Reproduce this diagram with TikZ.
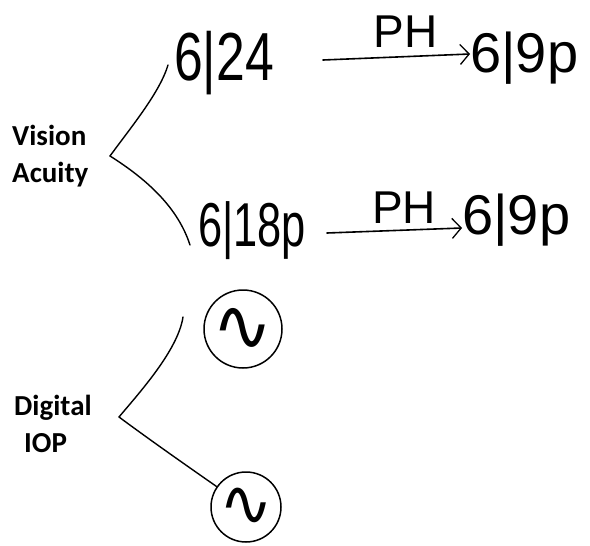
\documentclass[tikz,border=0pt]{standalone}
\usepackage{fontspec}
\setmainfont{Liberation Sans}
\newfontfamily\labfont{Carlito}
\newfontfamily\symfont{DejaVu Sans}
\usetikzlibrary{arrows.meta}
\begin{document}
\begin{tikzpicture}[x=1pt,y=-1pt,
  lab/.style={font=\labfont\bfseries\fontsize{29}{37}\selectfont, align=left, anchor=west, inner sep=0pt},
  hand/.style={inner sep=0pt, anchor=base west},
  branch/.style={line width=1.4pt, line cap=round},
  arr/.style={line width=1.6pt, line cap=round, -{Straight Barb[length=9pt,width=20pt,line width=1.3pt]}},
  circ/.style={circle, draw, line width=1.5pt, inner sep=0pt},
  phlab/.style={font=\fontsize{46}{48}\selectfont, inner sep=0pt, anchor=base}]
\useasboundingbox (0,0) rectangle (590,546);
% labels
\node[lab] (va) at (12,156) {Vision\\Acuity};
\node[lab] (dio) at (14,424) {Digital\\\hspace*{10pt}IOP};
% handwritten values
\node[hand, font=\fontsize{68}{70}\selectfont] (n24) at (174,80) {\scalebox{0.76}[1]{6|24}};
\node[hand, font=\fontsize{62}{64}\selectfont] (n18) at (198,246) {\scalebox{0.7}[1]{6|18p}};
\node[hand, font=\fontsize{56}{58}\selectfont] (n9a) at (470,72) {6|9p};
\node[hand, font=\fontsize{56}{58}\selectfont] (n9b) at (462,234) {6|9p};
\node[circ, minimum size=78pt, font=\symfont\fontsize{72}{72}\selectfont] (c1) at (243,329) {∿};
\node[circ, minimum size=70pt, font=\symfont\fontsize{64}{64}\selectfont] (c2) at (246,507) {∿};
% branch points
\coordinate (v1) at (110,156);
\coordinate (v2) at (119,417);
\coordinate (e1) at (168,65);
\coordinate (e2) at (190,245);
\coordinate (e3) at (183,317);
% branches
\draw[branch] (v1) .. controls (132,126) and (160,92) .. (e1);
\draw[branch] (v1) .. controls (148,180) and (178,208) .. (e2);
\draw[branch] (v2) .. controls (140,392) and (178,350) .. (e3);
\draw[branch] (v2) .. controls (150,440) and (190,468) .. (c2);
% arrows
\coordinate (a1s) at (323,60);
\coordinate (a2s) at (327,233);
\draw[arr] (a1s) -- (n9a.west |- 0,54) node[phlab, pos=0.56, above=8pt] (ph1) {PH};
\draw[arr] (a2s) -- (n9b.west |- 0,228) node[phlab, pos=0.57, above=6pt] (ph2) {PH};
\end{tikzpicture}
\end{document}
